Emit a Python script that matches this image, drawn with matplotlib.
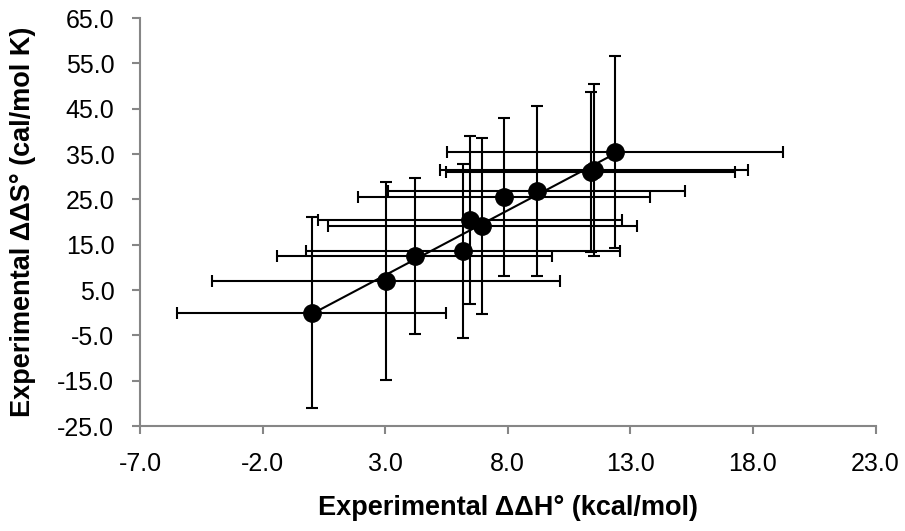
import numpy as np
import matplotlib
matplotlib.use("Agg")
import matplotlib.pyplot as plt
from matplotlib.ticker import FixedLocator, FormatStrFormatter

# Data
dH = [0.0, 3.05, 4.2, 6.16, 6.48, 6.97, 7.84, 9.18, 11.38, 11.51, 12.36]
dS = [0.0, 6.95, 12.5, 13.57, 20.44, 19.08, 25.5, 26.87, 31.07, 31.47, 35.4]
dH_err = [5.5, 7.1, 5.6, 6.4, 6.2, 6.3, 5.95, 6.05, 5.9, 6.28, 6.85]
dS_err = [21.0, 21.8, 17.2, 19.2, 18.5, 19.4, 17.4, 18.7, 17.6, 19.0, 21.2]

x_ticks = [-7.0, -2.0, 3.0, 8.0, 13.0, 18.0, 23.0]
y_ticks = [-25.0, -15.0, -5.0, 5.0, 15.0, 25.0, 35.0, 45.0, 55.0, 65.0]
x_label = "Experimental ΔΔH° (kcal/mol)"
y_label = "Experimental ΔΔS° (cal/mol K)"

plt.rcParams['font.family'] = ['Liberation Sans', 'DejaVu Sans']

fig = plt.figure(figsize=(9.05, 5.31), dpi=100)
ax = fig.add_axes([140/905, 105/531, 735.5/905, 408/531])

ax.errorbar(dH, dS, xerr=dH_err, yerr=dS_err, fmt='none', ecolor='black',
            elinewidth=1.5, capsize=4.3, capthick=1.5, zorder=2)

# linear trend line over data range
coef = np.polyfit(dH, dS, 1)
xs = np.array([min(dH), max(dH)])
ax.plot(xs, np.polyval(coef, xs), color='black', lw=1.5, zorder=3)

ax.plot(dH, dS, 'o', color='black', markersize=12.5, zorder=4)

ax.set_xlim(x_ticks[0], x_ticks[-1])
ax.set_ylim(y_ticks[0], y_ticks[-1])
ax.xaxis.set_major_locator(FixedLocator(x_ticks))
ax.yaxis.set_major_locator(FixedLocator(y_ticks))
ax.xaxis.set_major_formatter(FormatStrFormatter('%.1f'))
ax.yaxis.set_major_formatter(FormatStrFormatter('%.1f'))

for s in ['top', 'right']:
    ax.spines[s].set_visible(False)
for s in ['left', 'bottom']:
    ax.spines[s].set_color('#868686')
    ax.spines[s].set_linewidth(1.5)
ax.tick_params(axis='both', direction='out', color='#868686', width=1.5,
               length=6, labelsize=18, labelcolor='black')
ax.tick_params(axis='y', pad=12.5)
ax.tick_params(axis='x', pad=13)

fig.text(508/905, (531-508)/531, x_label, fontsize=19.5, fontweight='bold',
         ha='center', va='center')
fig.text(23/905, (531-222)/531, y_label, fontsize=19.5, fontweight='bold',
         ha='center', va='center', rotation=90)

fig.savefig('out.png', dpi=100)
